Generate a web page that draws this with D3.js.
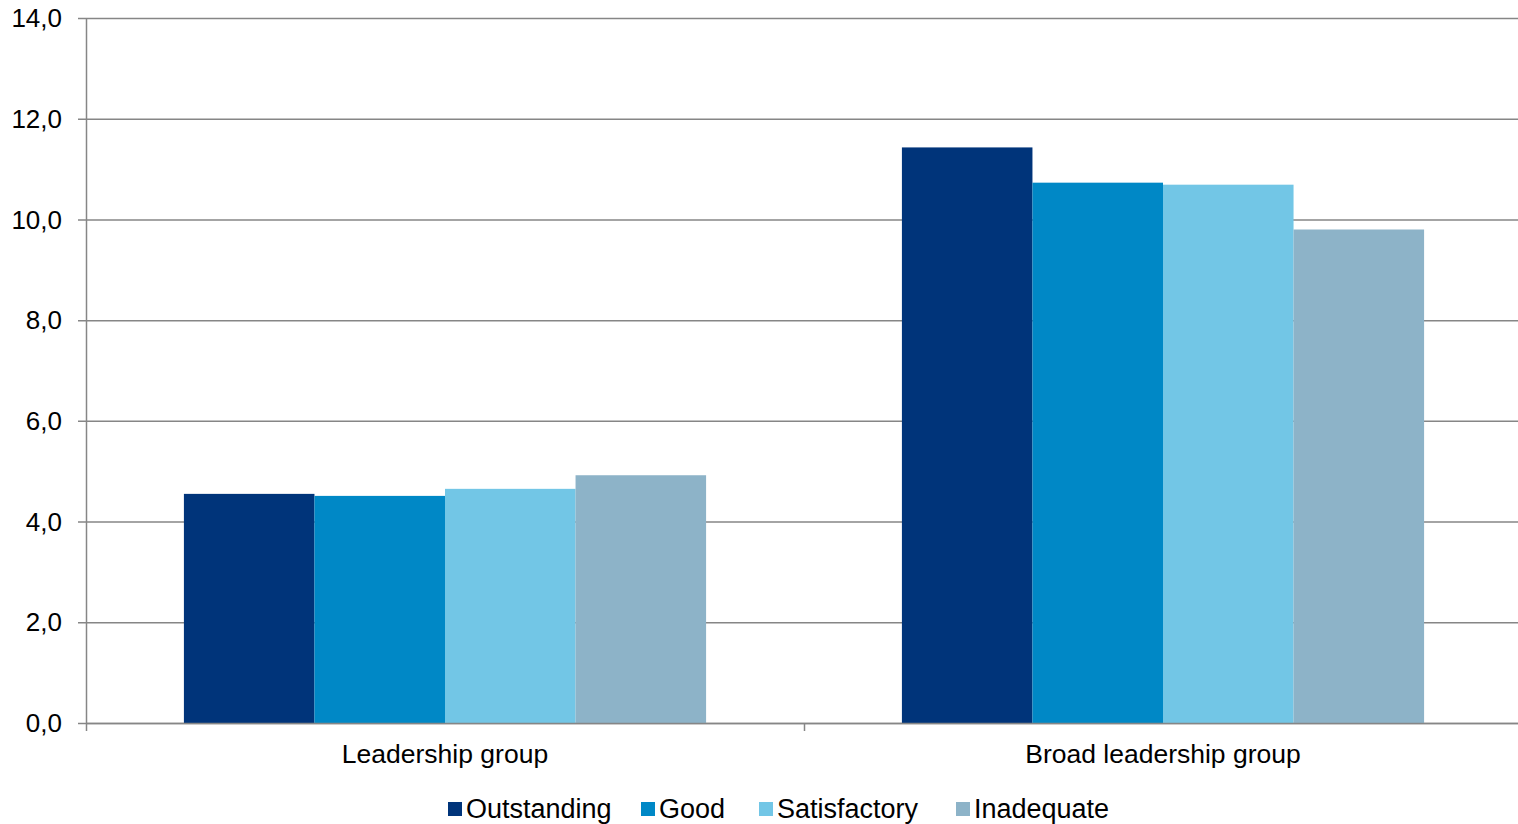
<!DOCTYPE html>
<html>
<head>
<meta charset="utf-8">
<script src="https://cdn.jsdelivr.net/npm/d3@7"></script>
<style>
  body { margin: 0; background: #fff; }
  svg { display: block; font-family: "Liberation Sans", Arial, sans-serif; }
  .tick-label { font-size: 26px; fill: #000; }
  .cat-label { font-size: 26.5px; fill: #000; }
  .legend-label { font-size: 27px; fill: #000; }
</style>
</head>
<body>
<div id="chart"></div>
<script>
var categories = ['Leadership group', 'Broad leadership group'];
var seriesNames = ['Outstanding', 'Good', 'Satisfactory', 'Inadequate'];
var seriesColors = ['#00347a', '#0088c6', '#72c6e6', '#8db3c8'];
var outstanding = [4.55, 11.43];
var good = [4.51, 10.73];
var satisfactory = [4.65, 10.69];
var inadequate = [4.92, 9.80];
var yTicks = [0, 2, 4, 6, 8, 10, 12, 14];

var seriesValues = [outstanding, good, satisfactory, inadequate];

var width = 1518;
var height = 824;
var margin = { top: 18, right: -4, bottom: 101, left: 86 };

var svg = d3.select('#chart')
    .append('svg')
    .attr('width', width)
    .attr('height', height);

var x0 = d3.scaleBand()
    .domain(categories)
    .range([margin.left, width - margin.right])
    .paddingInner(0)
    .paddingOuter(0);

var x1 = d3.scaleBand()
    .domain(seriesNames)
    .range([0, x0.bandwidth()])
    .paddingOuter(0.75)
    .paddingInner(0);

var y = d3.scaleLinear()
    .domain([0, 14])
    .range([height - margin.bottom, margin.top]);

// gridlines and y labels
var grid = svg.append('g');

grid.selectAll('line')
    .data(yTicks)
    .enter()
    .append('line')
    .attr('x1', margin.left - 8)
    .attr('x2', width)
    .attr('y1', function(d) { return y(d) + 0.5; })
    .attr('y2', function(d) { return y(d) + 0.5; })
    .attr('stroke', '#868686')
    .attr('stroke-width', 1.5);

grid.selectAll('text')
    .data(yTicks)
    .enter()
    .append('text')
    .attr('class', 'tick-label')
    .attr('x', 62)
    .attr('y', function(d) { return y(d); })
    .attr('dy', '0.35em')
    .attr('text-anchor', 'end')
    .text(function(d) { return d.toFixed(1).replace('.', ','); });

// bars
var groups = svg.append('g')
    .selectAll('g')
    .data(categories)
    .enter()
    .append('g')
    .attr('transform', function(d) { return 'translate(' + x0(d) + ',0)'; });

groups.selectAll('rect')
    .data(function(d, i) {
        return seriesNames.map(function(s, j) {
            return { series: s, value: seriesValues[j][i], color: seriesColors[j] };
        });
    })
    .enter()
    .append('rect')
    .attr('x', function(d) { return x1(d.series); })
    .attr('width', x1.bandwidth())
    .attr('y', function(d) { return y(d.value); })
    .attr('height', function(d) { return y(0) - y(d.value); })
    .attr('fill', function(d) { return d.color; });

// axes lines
svg.append('line')
    .attr('x1', margin.left + 0.5)
    .attr('x2', margin.left + 0.5)
    .attr('y1', margin.top)
    .attr('y2', y(0) + 8)
    .attr('stroke', '#868686')
    .attr('stroke-width', 1.5);

svg.append('line')
    .attr('x1', margin.left)
    .attr('x2', width)
    .attr('y1', y(0) + 0.5)
    .attr('y2', y(0) + 0.5)
    .attr('stroke', '#868686')
    .attr('stroke-width', 1.5);

// category separator ticks
var sepTicks = categories.slice(1).map(function(c) { return x0(c); });
svg.selectAll('.sep')
    .data(sepTicks)
    .enter()
    .append('line')
    .attr('x1', function(d) { return d + 0.5; })
    .attr('x2', function(d) { return d + 0.5; })
    .attr('y1', y(0))
    .attr('y2', y(0) + 8)
    .attr('stroke', '#868686')
    .attr('stroke-width', 1.5);

// category labels
svg.selectAll('.cat-label')
    .data(categories)
    .enter()
    .append('text')
    .attr('class', 'cat-label')
    .attr('x', function(d) { return x0(d) + x0.bandwidth() / 2; })
    .attr('y', 763)
    .attr('text-anchor', 'middle')
    .text(function(d) { return d; });

// legend
var legendX = [448, 641, 759, 956];
var legend = svg.append('g');

var item = legend.selectAll('g')
    .data(seriesNames)
    .enter()
    .append('g')
    .attr('transform', function(d, i) { return 'translate(' + legendX[i] + ',802)'; });

item.append('rect')
    .attr('width', 14)
    .attr('height', 14)
    .attr('fill', function(d, i) { return seriesColors[i]; });

item.append('text')
    .attr('class', 'legend-label')
    .attr('x', 18)
    .attr('y', 7)
    .attr('dy', '0.35em')
    .text(function(d) { return d; });
</script>
</body>
</html>
